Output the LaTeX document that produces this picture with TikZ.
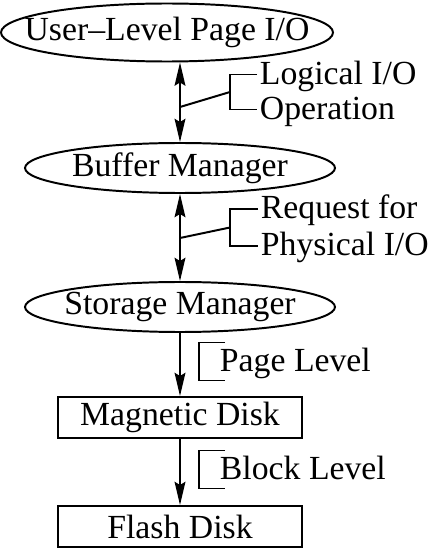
\documentclass[tikz,border=0pt]{standalone}
\usepackage{fontspec}
\setmainfont{Liberation Serif}
\usetikzlibrary{shapes.geometric,arrows.meta}

\begin{document}
\begin{tikzpicture}[line width=1.4pt, every node/.style={font=\fontsize{24}{29}\selectfont},
    layer/.style={draw, ellipse, inner xsep=-1.2cm, inner ysep=-0.3cm, minimum width=7.75cm, minimum height=1.25cm},
    disk/.style={draw, inner sep=0pt, minimum width=6.1cm, minimum height=1.025cm},
    note/.style={anchor=west, inner sep=0.05cm, text height=0.5cm, text depth=0pt},
    >={Stealth[length=0.58cm, width=0.27cm, inset=0.08cm]}]
    \useasboundingbox (0,0) rectangle (10.7,13.7);
    \node[layer, minimum width=8.3cm, minimum height=1.45cm] (user) at (4.175,12.8875) {User--Level Page I/O};
    \node[layer] (buffer) at (4.5,9.5) {Buffer Manager};
    \node[layer] (storage) at (4.5,6.025) {Storage Manager};
    \node[disk] (magnetic) at (4.5,3.2625) {Magnetic Disk};
    \node[disk] (flash) at (4.5,0.5375) {Flash Disk};
    \draw[<->] (user.south -| buffer.north) -- (buffer.north);
    \draw[<->] (buffer) -- (storage);
    \draw[->] (storage) -- (magnetic);
    \draw[->] (magnetic) -- (flash);
    % side notes
    \coordinate (a1) at (4.5,11.025);
    \coordinate (j1) at (5.75,11.4);
    \node[note] (logical) at (6.425,11.8375) {Logical I/O};
    \node[note] (operation) at (6.425,10.9625) {Operation};
    \draw (logical.west) -| (j1) |- (operation.west);
    \draw (a1) -- (j1);
    \coordinate (a2) at (4.5,7.75);
    \coordinate (j2) at (5.75,8.0125);
    \node[note] (request) at (6.45,8.475) {Request for};
    \node[note] (physical) at (6.45,7.55) {Physical I/O};
    \draw (request.west) -| (j2) |- (physical.west);
    \draw (a2) -- (j2);
    \node[note] (page) at (5.425,4.6625) {Page Level};
    \draw ([xshift=0.2cm,yshift=0.475cm]page.west) -| ([xshift=-0.45cm]page.west) |- ([xshift=0.2cm,yshift=-0.475cm]page.west);
    \node[note] (block) at (5.425,1.9625) {Block Level};
    \draw ([xshift=0.2cm,yshift=0.475cm]block.west) -| ([xshift=-0.45cm]block.west) |- ([xshift=0.2cm,yshift=-0.475cm]block.west);
\end{tikzpicture}
\end{document}
